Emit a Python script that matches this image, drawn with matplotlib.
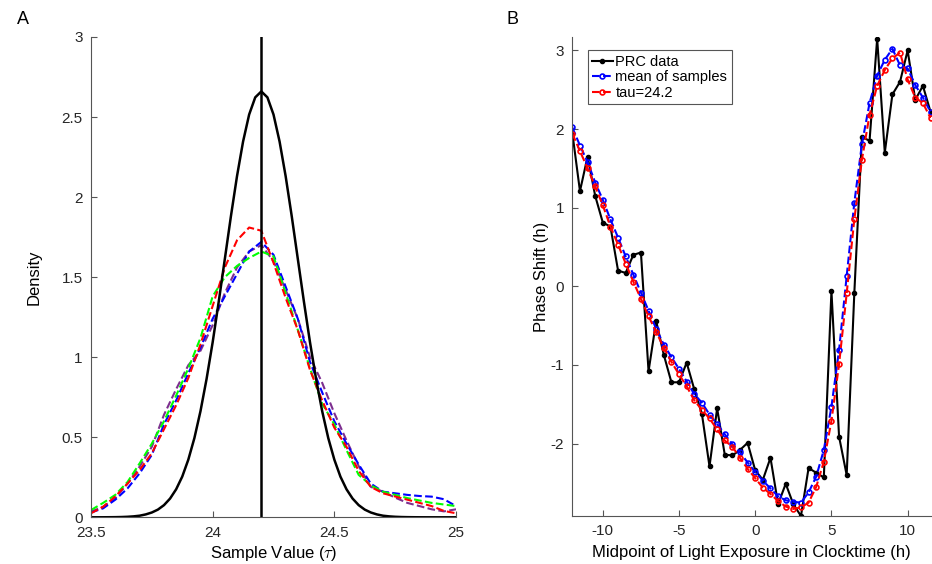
import numpy as np
import matplotlib
matplotlib.use("Agg")
from matplotlib import pyplot as plt

plt.rcParams['font.family'] = ['Liberation Sans', 'DejaVu Sans']
plt.rcParams['mathtext.fontset'] = 'cm'
plt.rcParams['axes.unicode_minus'] = False

# Panel A: posterior densities of tau
tau_true = 24.2
grid_fine = np.linspace(23.5, 25.0, 61)
prior_density = [0.00005, 0.0001, 0.0002, 0.0005, 0.0009, 0.0017, 0.0032, 0.0058,
                 0.010, 0.018, 0.030, 0.048, 0.076, 0.117, 0.175, 0.254, 0.360,
                 0.495, 0.663, 0.864, 1.093, 1.347, 1.613, 1.880, 2.130, 2.347,
                 2.516, 2.623, 2.660, 2.623, 2.516, 2.347, 2.130, 1.880, 1.613,
                 1.347, 1.093, 0.864, 0.663, 0.495, 0.360, 0.254, 0.175, 0.117,
                 0.076, 0.048, 0.030, 0.018, 0.010, 0.0058, 0.0032, 0.0017, 0.0009,
                 0.0005, 0.0002, 0.0001, 0.00005, 0.0, 0.0, 0.0, 0.0]

grid = np.linspace(23.5, 25.0, 31)
dens_red = [0.025, 0.066, 0.130, 0.210, 0.296, 0.400, 0.550, 0.700, 0.870, 1.080,
            1.320, 1.560, 1.730, 1.810, 1.790, 1.590, 1.370, 1.170, 0.920, 0.730,
            0.560, 0.440, 0.290, 0.190, 0.150, 0.130, 0.110, 0.090, 0.070, 0.040, 0.025]
dens_green = [0.045, 0.090, 0.140, 0.220, 0.337, 0.460, 0.600, 0.760, 0.930, 1.120,
              1.380, 1.500, 1.570, 1.620, 1.660, 1.630, 1.400, 1.170, 0.930, 0.710,
              0.580, 0.420, 0.265, 0.200, 0.160, 0.140, 0.120, 0.105, 0.090, 0.080, 0.070]
dens_blue = [0.030, 0.056, 0.110, 0.180, 0.275, 0.390, 0.580, 0.730, 0.900, 1.060,
             1.240, 1.380, 1.520, 1.660, 1.720, 1.640, 1.440, 1.240, 0.970, 0.780,
             0.600, 0.460, 0.330, 0.210, 0.160, 0.150, 0.140, 0.133, 0.129, 0.113, 0.070]
dens_purple = [0.035, 0.066, 0.120, 0.210, 0.317, 0.440, 0.640, 0.800, 0.950, 1.040,
               1.200, 1.400, 1.560, 1.660, 1.700, 1.600, 1.420, 1.240, 1.000, 0.840,
               0.650, 0.480, 0.320, 0.190, 0.160, 0.123, 0.090, 0.070, 0.050, 0.037, 0.050]

# Panel B: phase response curve
clock = np.linspace(-12, 11.5, 48)
prc_data = [1.95, 1.21, 1.65, 1.15, 0.81, 0.76, 0.20, 0.17, 0.40, 0.43,
            -1.08, -0.44, -0.87, -1.22, -1.22, -0.97, -1.31, -1.62, -2.29, -1.55,
            -2.14, -2.15, -2.08, -1.99, -2.34, -2.46, -2.18, -2.77, -2.51, -2.77,
            -2.92, -2.31, -2.37, -2.43, -0.06, -1.91, -2.40, -0.09, 1.90, 1.85,
            3.15, 1.70, 2.44, 2.60, 3.00, 2.37, 2.55, 2.22]
prc_mean = [2.02, 1.79, 1.58, 1.32, 1.10, 0.85, 0.62, 0.38, 0.15, -0.08,
            -0.31, -0.54, -0.74, -0.90, -1.05, -1.21, -1.37, -1.48, -1.63, -1.75,
            -1.88, -2.01, -2.11, -2.24, -2.36, -2.47, -2.57, -2.67, -2.72, -2.74,
            -2.75, -2.62, -2.42, -2.08, -1.53, -0.81, 0.13, 1.06, 1.81, 2.33,
            2.68, 2.88, 3.02, 2.81, 2.77, 2.56, 2.40, 2.22]
prc_tau = [1.94, 1.72, 1.50, 1.27, 1.03, 0.76, 0.53, 0.29, 0.06, -0.16,
           -0.38, -0.58, -0.78, -0.96, -1.12, -1.27, -1.45, -1.57, -1.68, -1.82,
           -1.96, -2.04, -2.18, -2.32, -2.44, -2.56, -2.64, -2.73, -2.80, -2.83,
           -2.81, -2.75, -2.55, -2.23, -1.71, -0.99, -0.09, 0.85, 1.61, 2.18,
           2.55, 2.75, 2.90, 2.97, 2.63, 2.40, 2.33, 2.14]

axis_gray = '#555555'
purple = (0.49, 0.18, 0.56)

fig = plt.figure(figsize=(9.32, 5.64), dpi=100)


def style_axes(ax):
    for side in ('top', 'right'):
        ax.spines[side].set_visible(False)
    for side in ('left', 'bottom'):
        ax.spines[side].set_color(axis_gray)
        ax.spines[side].set_linewidth(0.8)
    ax.tick_params(direction='in', length=4, width=0.8, color=axis_gray,
                   labelsize=11, labelcolor='#262626')
    ax.tick_params(axis='x', pad=6)
    ax.tick_params(axis='y', pad=6)


# A
ax = fig.add_axes([0.0976, 0.0828, 0.3917, 0.8516])
style_axes(ax)
ax.plot(grid, dens_purple, '--', color=purple, lw=1.5)
ax.plot(grid, dens_blue, '--', color='blue', lw=1.5)
ax.plot(grid, dens_green, '--', color=(0, 1, 0), lw=1.5)
ax.plot(grid, dens_red, '--', color='red', lw=1.5)
ax.plot(grid_fine, prior_density, '-', color='black', lw=1.8)
ax.axvline(tau_true, color='black', lw=1.8)
ax.set_xlim(23.5, 25)
ax.set_ylim(0, 3)
ax.set_xticks([23.5, 24, 24.5, 25])
ax.set_xticklabels(['23.5', '24', '24.5', '25'])
ax.set_yticks([0, 0.5, 1, 1.5, 2, 2.5, 3])
ax.set_yticklabels(['0', '0.5', '1', '1.5', '2', '2.5', '3'])
ax.set_xlabel(r'Sample Value ($\tau$)', fontsize=12, labelpad=3)
ax.set_ylabel('Density', fontsize=12, labelpad=14)
fig.text(17 / 932, 1 - 20 / 564, 'A', fontsize=13, ha='left', va='center')

# B
ax = fig.add_axes([0.6141, 0.0851, 0.3843, 0.8493])
style_axes(ax)
ax.plot(clock, prc_data, '-', color='black', lw=1.5, marker='.', markersize=6,
        label='PRC data')
ax.plot(clock, prc_mean, '--', color='blue', lw=1.5, marker='o', markersize=3.5,
        markerfacecolor='none', markeredgewidth=1.2, label='mean of samples')
ax.plot(clock, prc_tau, '--', color='red', lw=1.5, marker='o', markersize=3.5,
        markerfacecolor='none', markeredgewidth=1.2, label='tau=24.2')
ax.set_xlim(-12, 11.5)
ax.set_ylim(-2.92, 3.17)
ax.set_xticks([-10, -5, 0, 5, 10])
ax.set_yticks([-2, -1, 0, 1, 2, 3])
ax.set_xlabel('Midpoint of Light Exposure in Clocktime (h)', fontsize=12, labelpad=5)
ax.set_ylabel('Phase Shift (h)', fontsize=12, labelpad=1)
leg = ax.legend(loc='upper left', bbox_to_anchor=(0.043, 0.972), fontsize=10.5,
                frameon=True, fancybox=False, framealpha=1, borderpad=0.3,
                handlelength=1.4, handletextpad=0.2, labelspacing=0.1,
                borderaxespad=0)
leg.get_frame().set_edgecolor(axis_gray)
leg.get_frame().set_linewidth(0.8)
fig.text(507 / 932, 1 - 20 / 564, 'B', fontsize=13, ha='left', va='center')

fig.savefig('out.png', dpi=100)
